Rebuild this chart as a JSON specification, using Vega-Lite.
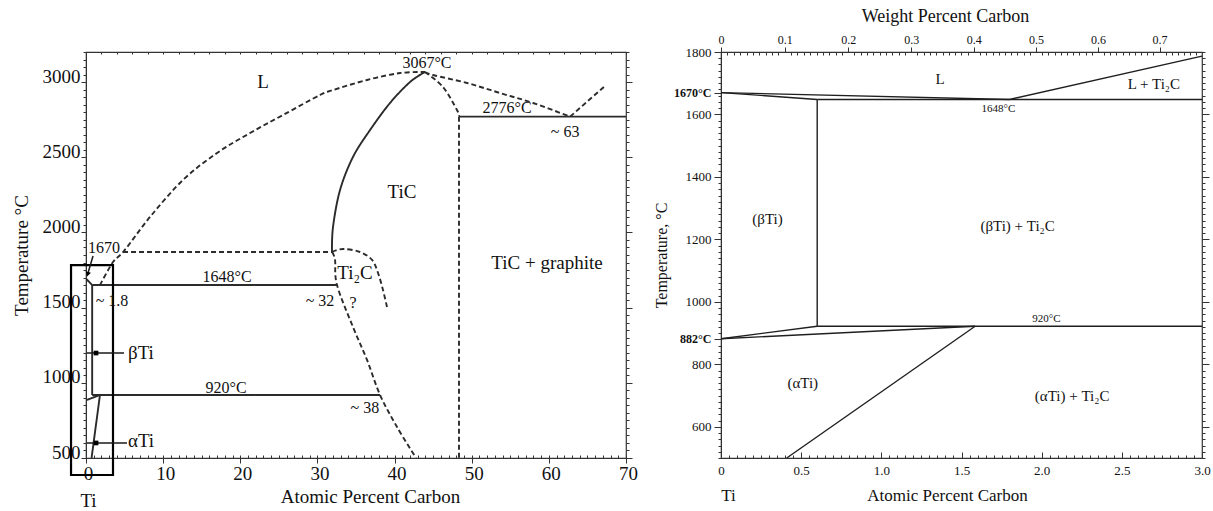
{
"$schema": "https://vega.github.io/schema/vega-lite/v6.json",
"padding": {"left": 11, "top": 6, "right": 2, "bottom": 2},
"background": "white",
"spacing": 13,
"config": {
  "font": "Liberation Serif",
  "view": {"stroke": "#333", "strokeWidth": 1.2},
  "axis": {"grid": false, "domainColor": "#333", "tickColor": "#333", "labelColor": "#111", "titleColor": "#111", "titleFontWeight": "normal", "labelFont": "Liberation Serif", "titleFont": "Liberation Serif", "labelFlush": false, "labelOverlap": false, "labelBound": false},
  "text": {"font": "Liberation Serif", "color": "#111"}
},
"datasets": {
  "leftLines": [
    {"seg":"liqL","style":"dashed","i":0,"x":1.81,"t":1650},
    {"seg":"liqL","style":"dashed","i":1,"x":3.5,"t":1803},
    {"seg":"liqL","style":"dashed","i":2,"x":4.93,"t":1877},
    {"seg":"liqL","style":"dashed","i":3,"x":8.3,"t":2103},
    {"seg":"liqL","style":"dashed","i":4,"x":12.57,"t":2349},
    {"seg":"liqL","style":"dashed","i":5,"x":16.98,"t":2528},
    {"seg":"liqL","style":"dashed","i":6,"x":21.26,"t":2661},
    {"seg":"liqL","style":"dashed","i":7,"x":25.54,"t":2781},
    {"seg":"liqL","style":"dashed","i":8,"x":30.33,"t":2914},
    {"seg":"liqL","style":"dashed","i":9,"x":32.02,"t":2947},
    {"seg":"liqL","style":"dashed","i":10,"x":36.43,"t":3014},
    {"seg":"liqL","style":"dashed","i":11,"x":40.71,"t":3060},
    {"seg":"liqL","style":"dashed","i":12,"x":43.95,"t":3067},
    {"seg":"liqR","style":"dashed","i":0,"x":43.95,"t":3067},
    {"seg":"liqR","style":"dashed","i":1,"x":44.98,"t":3047},
    {"seg":"liqR","style":"dashed","i":2,"x":49.39,"t":2994},
    {"seg":"liqR","style":"dashed","i":3,"x":53.67,"t":2927},
    {"seg":"liqR","style":"dashed","i":4,"x":57.95,"t":2861},
    {"seg":"liqR","style":"dashed","i":5,"x":62.75,"t":2770},
    {"seg":"liqG","style":"dashed","i":0,"x":62.75,"t":2770},
    {"seg":"liqG","style":"dashed","i":1,"x":67.28,"t":2974},
    {"seg":"ticL","style":"solid","i":0,"x":31.89,"t":1870},
    {"seg":"ticL","style":"solid","i":1,"x":32.02,"t":2036},
    {"seg":"ticL","style":"solid","i":2,"x":32.93,"t":2282},
    {"seg":"ticL","style":"solid","i":3,"x":34.61,"t":2502},
    {"seg":"ticL","style":"solid","i":4,"x":36.82,"t":2681},
    {"seg":"ticL","style":"solid","i":5,"x":39.41,"t":2861},
    {"seg":"ticL","style":"solid","i":6,"x":42.0,"t":3000},
    {"seg":"ticL","style":"solid","i":7,"x":43.95,"t":3067},
    {"seg":"ticR","style":"dashed","i":0,"x":43.95,"t":3067},
    {"seg":"ticR","style":"dashed","i":1,"x":46.28,"t":2967},
    {"seg":"ticR","style":"dashed","i":2,"x":48.09,"t":2814},
    {"seg":"ticR","style":"dashed","i":3,"x":48.35,"t":2770},
    {"seg":"ticV","style":"dashed","i":0,"x":48.35,"t":2770},
    {"seg":"ticV","style":"dashed","i":1,"x":48.35,"t":500},
    {"seg":"eut","style":"solid","i":0,"x":48.35,"t":2770},
    {"seg":"eut","style":"solid","i":1,"x":70,"t":2770},
    {"seg":"h1870","style":"dashed","i":0,"x":4.8,"t":1870},
    {"seg":"h1870","style":"dashed","i":1,"x":31.89,"t":1870},
    {"seg":"dome","style":"dashed","i":0,"x":31.89,"t":1870},
    {"seg":"dome","style":"dashed","i":1,"x":33.32,"t":1890},
    {"seg":"dome","style":"dashed","i":2,"x":35.52,"t":1870},
    {"seg":"dome","style":"dashed","i":3,"x":37.08,"t":1817},
    {"seg":"dome","style":"dashed","i":4,"x":37.86,"t":1730},
    {"seg":"dome","style":"dashed","i":5,"x":38.5,"t":1617},
    {"seg":"dome","style":"dashed","i":6,"x":39.02,"t":1504},
    {"seg":"ti2cL","style":"dashed","i":0,"x":31.89,"t":1870},
    {"seg":"ti2cL","style":"dashed","i":1,"x":32.28,"t":1817},
    {"seg":"ti2cL","style":"dashed","i":2,"x":32.54,"t":1650},
    {"seg":"ti2cL","style":"dashed","i":3,"x":34.61,"t":1371},
    {"seg":"ti2cL","style":"dashed","i":4,"x":36.43,"t":1152},
    {"seg":"ti2cL","style":"dashed","i":5,"x":38.12,"t":919},
    {"seg":"ti2cL","style":"dashed","i":6,"x":40.32,"t":706},
    {"seg":"ti2cL","style":"dashed","i":7,"x":42.78,"t":500},
    {"seg":"l1648","style":"solid","i":0,"x":0.8,"t":1650},
    {"seg":"l1648","style":"solid","i":1,"x":32.54,"t":1650},
    {"seg":"stub","style":"solid","i":0,"x":0.05,"t":1690},
    {"seg":"stub","style":"solid","i":1,"x":0.8,"t":1650},
    {"seg":"bV","style":"solid","i":0,"x":0.8,"t":1650},
    {"seg":"bV","style":"solid","i":1,"x":0.8,"t":919},
    {"seg":"l920","style":"solid","i":0,"x":0.8,"t":919},
    {"seg":"l920","style":"solid","i":1,"x":38.12,"t":919},
    {"seg":"diag","style":"solid","i":0,"x":0.1,"t":886},
    {"seg":"diag","style":"solid","i":1,"x":1.81,"t":919},
    {"seg":"alpha","style":"solid","i":0,"x":1.81,"t":919},
    {"seg":"alpha","style":"solid","i":1,"x":0.72,"t":500}
  ],
  "leftArrows": [
    {"seg":"b","i":0,"x":0.13,"t":1198},
    {"seg":"b","i":1,"x":4.93,"t":1198},
    {"seg":"a","i":0,"x":0.13,"t":600},
    {"seg":"a","i":1,"x":5.31,"t":600},
    {"seg":"m","i":0,"x":0.91,"t":1843},
    {"seg":"m","i":1,"x":0.26,"t":1730}
  ],
  "leftDots": [{"x":1.3,"t":1198},{"x":1.3,"t":600}],
  "leftHead": [{"x":0.22,"t":1722}],
  "leftBox": [{"x1":-1.94,"x2":3.5,"t1":387,"t2":1783}],
  "leftText": [
    {"kind":"phase","label":"L","x":22.95,"t":3000},
    {"kind":"phase","label":"TiC","x":40.96,"t":2269},
    {"kind":"phase","label":"TiC + graphite","x":59.76,"t":1797},
    {"kind":"phase","label":"Ti₂C","x":34.87,"t":1730},
    {"kind":"temp","label":"3067°C","x":44.2,"t":3127},
    {"kind":"temp","label":"2776°C","x":54.58,"t":2828},
    {"kind":"temp","label":"1648°C","x":18.28,"t":1704},
    {"kind":"temp","label":"920°C","x":18.15,"t":966},
    {"kind":"comp","label":"~ 63","x":62.1,"t":2668},
    {"kind":"comp","label":"~ 32","x":30.33,"t":1544},
    {"kind":"comp","label":"~ 38","x":36.16,"t":833},
    {"kind":"comp","label":"~ 1.8","x":3.37,"t":1544},
    {"kind":"comp","label":"?","x":34.61,"t":1531},
    {"kind":"comp","label":"1670","x":2.33,"t":1897},
    {"kind":"side","label":"βTi","x":5.44,"t":1198},
    {"kind":"side","label":"αTi","x":5.44,"t":615}
  ],
  "rightLines": [
    {"seg":"liq","i":0,"x":0,"t":1670},
    {"seg":"liq","i":1,"x":1.8,"t":1648},
    {"seg":"sol","i":0,"x":0,"t":1670},
    {"seg":"sol","i":1,"x":0.6,"t":1648},
    {"seg":"l1648","i":0,"x":0.6,"t":1648},
    {"seg":"l1648","i":1,"x":3.0,"t":1648},
    {"seg":"liqT","i":0,"x":1.8,"t":1648},
    {"seg":"liqT","i":1,"x":3.0,"t":1787},
    {"seg":"bV","i":0,"x":0.6,"t":1648},
    {"seg":"bV","i":1,"x":0.6,"t":922},
    {"seg":"l920","i":0,"x":0.6,"t":922},
    {"seg":"l920","i":1,"x":3.0,"t":922},
    {"seg":"tr1","i":0,"x":0,"t":882},
    {"seg":"tr1","i":1,"x":0.6,"t":922},
    {"seg":"tr2","i":0,"x":0,"t":882},
    {"seg":"tr2","i":1,"x":1.585,"t":922},
    {"seg":"asolv","i":0,"x":1.585,"t":922},
    {"seg":"asolv","i":1,"x":0.41,"t":500}
  ],
  "rightText": [
    {"kind":"phase","label":"L","x":1.366,"t":1714},
    {"kind":"phase","label":"L + Ti₂C","x":2.7,"t":1697},
    {"kind":"phase","label":"(βTi)","x":0.29,"t":1265},
    {"kind":"phase","label":"(βTi) + Ti₂C","x":1.85,"t":1243},
    {"kind":"phase","label":"(αTi)","x":0.51,"t":740},
    {"kind":"phase","label":"(αTi) + Ti₂C","x":2.19,"t":698},
    {"kind":"temp","label":"1648°C","x":1.73,"t":1617},
    {"kind":"temp","label":"920°C","x":2.03,"t":945}
  ]
},
"hconcat": [
{
  "width": 540, "height": 406,
  "resolve": {"axis": {"x": "independent", "y": "independent"}},
  "layer": [
    {
      "data": {"name": "leftLines"},
      "mark": {"type": "line", "color": "#2b2b2b", "strokeWidth": 1.9, "interpolate": "cardinal"},
      "encoding": {
        "x": {"field": "x", "type": "quantitative", "scale": {"domain": [0, 70], "nice": false, "zero": false},
              "axis": {"orient": "bottom", "values": [0,10,20,30,40,50,60,70], "format": "d", "tickSize": 5, "labelFontSize": 19, "labelPadding": 1, "labelOffset": 2, "title": "Atomic Percent Carbon", "titleFontSize": 19, "titlePadding": 4, "titleX": 284}},
        "y": {"field": "t", "type": "quantitative", "scale": {"domain": [500, 3200], "nice": false, "zero": false},
              "axis": {"orient": "left", "values": [500,1000,1500,2000,2500,3000], "format": "d", "tickSize": 5, "labelFontSize": 19, "labelPadding": 1, "labelOffset": -6, "title": "Temperature °C", "titleFontSize": 19, "titlePadding": 11}},
        "detail": {"field": "seg"},
        "order": {"field": "i"},
        "strokeDash": {"field": "style", "type": "nominal", "scale": {"domain": ["solid", "dashed"], "range": [[1, 0], [5, 3]]}, "legend": null}
      }
    },
    {
      "data": {"name": "leftLines"},
      "mark": {"type": "point", "opacity": 0},
      "encoding": {
        "x": {"field": "x", "type": "quantitative", "scale": {"domain": [0, 70], "nice": false, "zero": false},
              "axis": {"orient": "bottom", "values": [0,1,2,3,4,5,6,7,8,9,10,11,12,13,14,15,16,17,18,19,20,21,22,23,24,25,26,27,28,29,30,31,32,33,34,35,36,37,38,39,40,41,42,43,44,45,46,47,48,49,50,51,52,53,54,55,56,57,58,59,60,61,62,63,64,65,66,67,68,69,70], "tickSize": -3, "labels": false, "domain": false, "title": null}},
        "y": {"field": "t", "type": "quantitative", "scale": {"domain": [500, 3200], "nice": false, "zero": false},
              "axis": {"orient": "left", "values": [500,550,600,650,700,750,800,850,900,950,1000,1050,1100,1150,1200,1250,1300,1350,1400,1450,1500,1550,1600,1650,1700,1750,1800,1850,1900,1950,2000,2050,2100,2150,2200,2250,2300,2350,2400,2450,2500,2550,2600,2650,2700,2750,2800,2850,2900,2950,3000,3050,3100,3150,3200], "tickSize": 3, "labels": false, "domain": false, "title": null}}
      }
    },
    {
      "data": {"name": "leftLines"},
      "mark": {"type": "point", "opacity": 0},
      "encoding": {
        "x": {"field": "x", "type": "quantitative", "scale": {"domain": [0, 70], "nice": false, "zero": false},
              "axis": {"orient": "bottom", "values": [0], "labelExpr": "'Ti'", "ticks": false, "domain": false, "labelFontSize": 19, "labelPadding": 33, "labelOffset": 2, "title": null}},
        "y": {"field": "t", "type": "quantitative", "scale": {"domain": [500, 3200], "nice": false, "zero": false},
              "axis": {"orient": "right", "values": [500,550,600,650,700,750,800,850,900,950,1000,1050,1100,1150,1200,1250,1300,1350,1400,1450,1500,1550,1600,1650,1700,1750,1800,1850,1900,1950,2000,2050,2100,2150,2200,2250,2300,2350,2400,2450,2500,2550,2600,2650,2700,2750,2800,2850,2900,2950,3000,3050,3100,3150,3200], "tickSize": 3, "labels": false, "domain": false, "title": null}}
      }
    },
    {
      "data": {"name": "leftLines"},
      "mark": {"type": "point", "opacity": 0},
      "encoding": {
        "x": {"field": "x", "type": "quantitative", "scale": {"domain": [0, 70], "nice": false, "zero": false},
              "axis": {"orient": "top", "values": [0,2,4,6,8,10,12,14,16,18,20,22,24,26,28,30,32,34,36,38,40,42,44,46,48,50,52,54,56,58,60,62,64,66,68,70], "tickSize": -2, "labels": false, "domain": false, "title": null}},
        "y": {"field": "t", "type": "quantitative", "scale": {"domain": [500, 3200], "nice": false, "zero": false},
              "axis": {"orient": "right", "values": [500,1000,1500,2000,2500,3000], "tickSize": 6, "labels": false, "domain": false, "title": null}}
      }
    },
    {
      "data": {"name": "leftBox"},
      "mark": {"type": "rect", "filled": false, "stroke": "#000", "strokeWidth": 2.2},
      "encoding": {
        "x": {"field": "x1", "type": "quantitative", "scale": {"domain": [0, 70], "nice": false, "zero": false}, "axis": null},
        "x2": {"field": "x2"},
        "y": {"field": "t1", "type": "quantitative", "scale": {"domain": [500, 3200], "nice": false, "zero": false}, "axis": null},
        "y2": {"field": "t2"}
      }
    },
    {
      "data": {"name": "leftArrows"},
      "mark": {"type": "line", "color": "#1a1a1a", "strokeWidth": 1.5},
      "encoding": {
        "x": {"field": "x", "type": "quantitative", "scale": {"domain": [0, 70], "nice": false, "zero": false}, "axis": null},
        "y": {"field": "t", "type": "quantitative", "scale": {"domain": [500, 3200], "nice": false, "zero": false}, "axis": null},
        "detail": {"field": "seg"},
        "order": {"field": "i"}
      }
    },
    {
      "data": {"name": "leftDots"},
      "mark": {"type": "point", "shape": "square", "filled": true, "color": "#000", "size": 22, "opacity": 1},
      "encoding": {
        "x": {"field": "x", "type": "quantitative", "scale": {"domain": [0, 70], "nice": false, "zero": false}, "axis": null},
        "y": {"field": "t", "type": "quantitative", "scale": {"domain": [500, 3200], "nice": false, "zero": false}, "axis": null}
      }
    },
    {
      "data": {"name": "leftHead"},
      "mark": {"type": "point", "shape": "triangle-down", "filled": true, "color": "#000", "size": 30, "opacity": 1, "angle": 15},
      "encoding": {
        "x": {"field": "x", "type": "quantitative", "scale": {"domain": [0, 70], "nice": false, "zero": false}, "axis": null},
        "y": {"field": "t", "type": "quantitative", "scale": {"domain": [500, 3200], "nice": false, "zero": false}, "axis": null}
      }
    },
    {
      "data": {"name": "leftText"},
      "transform": [{"filter": "datum.kind == 'phase'"}],
      "mark": {"type": "text", "fontSize": 19},
      "encoding": {
        "x": {"field": "x", "type": "quantitative", "scale": {"domain": [0, 70], "nice": false, "zero": false}, "axis": null},
        "y": {"field": "t", "type": "quantitative", "scale": {"domain": [500, 3200], "nice": false, "zero": false}, "axis": null},
        "text": {"field": "label"}
      }
    },
    {
      "data": {"name": "leftText"},
      "transform": [{"filter": "datum.kind == 'temp' || datum.kind == 'comp'"}],
      "mark": {"type": "text", "fontSize": 16},
      "encoding": {
        "x": {"field": "x", "type": "quantitative", "scale": {"domain": [0, 70], "nice": false, "zero": false}, "axis": null},
        "y": {"field": "t", "type": "quantitative", "scale": {"domain": [500, 3200], "nice": false, "zero": false}, "axis": null},
        "text": {"field": "label"}
      }
    },
    {
      "data": {"name": "leftText"},
      "transform": [{"filter": "datum.kind == 'side'"}],
      "mark": {"type": "text", "fontSize": 19, "align": "left"},
      "encoding": {
        "x": {"field": "x", "type": "quantitative", "scale": {"domain": [0, 70], "nice": false, "zero": false}, "axis": null},
        "y": {"field": "t", "type": "quantitative", "scale": {"domain": [500, 3200], "nice": false, "zero": false}, "axis": null},
        "text": {"field": "label"}
      }
    }
  ]
},
{
  "width": 481, "height": 406,
  "resolve": {"axis": {"x": "independent", "y": "independent"}},
  "layer": [
    {
      "data": {"name": "rightLines"},
      "mark": {"type": "line", "color": "#1f1f1f", "strokeWidth": 1.4},
      "encoding": {
        "x": {"field": "x", "type": "quantitative", "scale": {"domain": [0, 3], "nice": false, "zero": false},
              "axis": {"orient": "bottom", "values": [0,0.5,1,1.5,2,2.5,3], "labelExpr": "datum.value == 0 ? '0' : format(datum.value, '.1f')", "ticks": false, "labelFontSize": 13, "labelPadding": 6, "title": "Atomic Percent Carbon", "titleFontSize": 17, "titlePadding": 10, "titleX": 226}},
        "y": {"field": "t", "type": "quantitative", "scale": {"domain": [500, 1800], "nice": false, "zero": false},
              "axis": {"orient": "left", "values": [600,800,1000,1200,1400,1600,1800], "format": "d", "tickSize": 7, "labelFontSize": 13, "labelPadding": 3, "title": "Temperature, °C", "titleFontSize": 16, "titlePadding": 16}},
        "detail": {"field": "seg"},
        "order": {"field": "i"}
      }
    },
    {
      "data": {"name": "rightLines"},
      "mark": {"type": "point", "opacity": 0},
      "encoding": {
        "x": {"field": "x", "type": "quantitative", "scale": {"domain": [0, 3], "nice": false, "zero": false},
              "axis": {"orient": "bottom", "values": [0,0.05,0.1,0.15,0.2,0.25,0.3,0.35,0.4,0.45,0.5,0.55,0.6,0.65,0.7,0.75,0.8,0.85,0.9,0.95,1,1.05,1.1,1.15,1.2,1.25,1.3,1.35,1.4,1.45,1.5,1.55,1.6,1.65,1.7,1.75,1.8,1.85,1.9,1.95,2,2.05,2.1,2.15,2.2,2.25,2.3,2.35,2.4,2.45,2.5,2.55,2.6,2.65,2.7,2.75,2.8,2.85,2.9,2.95,3], "tickSize": -3, "labels": false, "domain": false, "title": null}},
        "y": {"field": "t", "type": "quantitative", "scale": {"domain": [500, 1800], "nice": false, "zero": false},
              "axis": {"orient": "left", "values": [500,520,540,560,580,600,620,640,660,680,700,720,740,760,780,800,820,840,860,880,900,920,940,960,980,1000,1020,1040,1060,1080,1100,1120,1140,1160,1180,1200,1220,1240,1260,1280,1300,1320,1340,1360,1380,1400,1420,1440,1460,1480,1500,1520,1540,1560,1580,1600,1620,1640,1660,1680,1700,1720,1740,1760,1780,1800], "tickSize": 3, "labels": false, "domain": false, "title": null}}
      }
    },
    {
      "data": {"name": "rightLines"},
      "mark": {"type": "point", "opacity": 0},
      "encoding": {
        "x": {"field": "x", "type": "quantitative", "scale": {"domain": [0, 3], "nice": false, "zero": false},
              "axis": {"orient": "bottom", "values": [0,0.5,1,1.5,2,2.5,3], "tickSize": -6, "labels": false, "domain": false, "title": null}},
        "y": {"field": "t", "type": "quantitative", "scale": {"domain": [500, 1800], "nice": false, "zero": false},
              "axis": {"orient": "left", "values": [1670, 882], "labelExpr": "datum.value + '°C'", "labelFontWeight": "bold", "labelFontSize": 12, "tickSize": 7, "labelPadding": 3, "domain": false, "title": null}}
      }
    },
    {
      "data": {"name": "rightLines"},
      "mark": {"type": "point", "opacity": 0},
      "encoding": {
        "x": {"field": "x", "type": "quantitative", "scale": {"domain": [0, 3], "nice": false, "zero": false},
              "axis": {"orient": "top", "values": [0,0.3977,0.7931,1.1861,1.5768,1.9652,2.3513,2.7352], "labelExpr": "datum.value == 0 ? '0' : format(datum.value*12/(datum.value*12 + (100-datum.value)*47.87)*100, '.1f')", "tickSize": 5, "labelFontSize": 12, "labelPadding": 1, "title": "Weight Percent Carbon", "titleFontSize": 18, "titlePadding": 8, "titleX": 224}},
        "y": {"field": "t", "type": "quantitative", "scale": {"domain": [500, 1800], "nice": false, "zero": false},
              "axis": {"orient": "right", "values": [500,520,540,560,580,600,620,640,660,680,700,720,740,760,780,800,820,840,860,880,900,920,940,960,980,1000,1020,1040,1060,1080,1100,1120,1140,1160,1180,1200,1220,1240,1260,1280,1300,1320,1340,1360,1380,1400,1420,1440,1460,1480,1500,1520,1540,1560,1580,1600,1620,1640,1660,1680,1700,1720,1740,1760,1780,1800], "tickSize": 3, "labels": false, "domain": false, "title": null}}
      }
    },
    {
      "data": {"name": "rightLines"},
      "mark": {"type": "point", "opacity": 0},
      "encoding": {
        "x": {"field": "x", "type": "quantitative", "scale": {"domain": [0, 3], "nice": false, "zero": false},
              "axis": {"orient": "top", "values": [0.0399,0.0797,0.1196,0.1594,0.1992,0.2389,0.2786,0.3184,0.3581,0.4374,0.477,0.5166,0.5562,0.5957,0.6352,0.6747,0.7142,0.7537,0.8325,0.8719,0.9112,0.9506,0.9899,1.0292,1.0684,1.1077,1.1469,1.2253,1.2644,1.3036,1.3427,1.3817,1.4208,1.4598,1.4989,1.5378,1.6157,1.6547,1.6936,1.7325,1.7713,1.8101,1.8489,1.8877,1.9265,2.0039,2.0426,2.0813,2.1199,2.1585,2.1972,2.2357,2.2743,2.3128,2.3898,2.4283,2.4667,2.5051,2.5435,2.5819,2.6203,2.6586,2.6969,2.7734,2.8117,2.8499,2.8881,2.9263,2.9644], "tickSize": -3, "labels": false, "domain": false, "title": null}},
        "y": {"field": "t", "type": "quantitative", "scale": {"domain": [500, 1800], "nice": false, "zero": false},
              "axis": {"orient": "right", "values": [600,800,1000,1200,1400,1600], "tickSize": 7, "labels": false, "domain": false, "title": null}}
      }
    },
    {
      "data": {"name": "rightLines"},
      "mark": {"type": "point", "opacity": 0},
      "encoding": {
        "x": {"field": "x", "type": "quantitative", "scale": {"domain": [0, 3], "nice": false, "zero": false},
              "axis": {"orient": "bottom", "values": [0], "labelExpr": "'Ti'", "ticks": false, "domain": false, "labelFontSize": 17, "labelPadding": 29, "labelOffset": 7, "title": null}},
        "y": {"field": "t", "type": "quantitative", "scale": {"domain": [500, 1800], "nice": false, "zero": false}, "axis": null}
      }
    },
    {
      "data": {"name": "rightText"},
      "transform": [{"filter": "datum.kind == 'phase'"}],
      "mark": {"type": "text", "fontSize": 15},
      "encoding": {
        "x": {"field": "x", "type": "quantitative", "scale": {"domain": [0, 3], "nice": false, "zero": false}, "axis": null},
        "y": {"field": "t", "type": "quantitative", "scale": {"domain": [500, 1800], "nice": false, "zero": false}, "axis": null},
        "text": {"field": "label"}
      }
    },
    {
      "data": {"name": "rightText"},
      "transform": [{"filter": "datum.kind == 'temp'"}],
      "mark": {"type": "text", "fontSize": 11},
      "encoding": {
        "x": {"field": "x", "type": "quantitative", "scale": {"domain": [0, 3], "nice": false, "zero": false}, "axis": null},
        "y": {"field": "t", "type": "quantitative", "scale": {"domain": [500, 1800], "nice": false, "zero": false}, "axis": null},
        "text": {"field": "label"}
      }
    }
  ]
}
]
}
